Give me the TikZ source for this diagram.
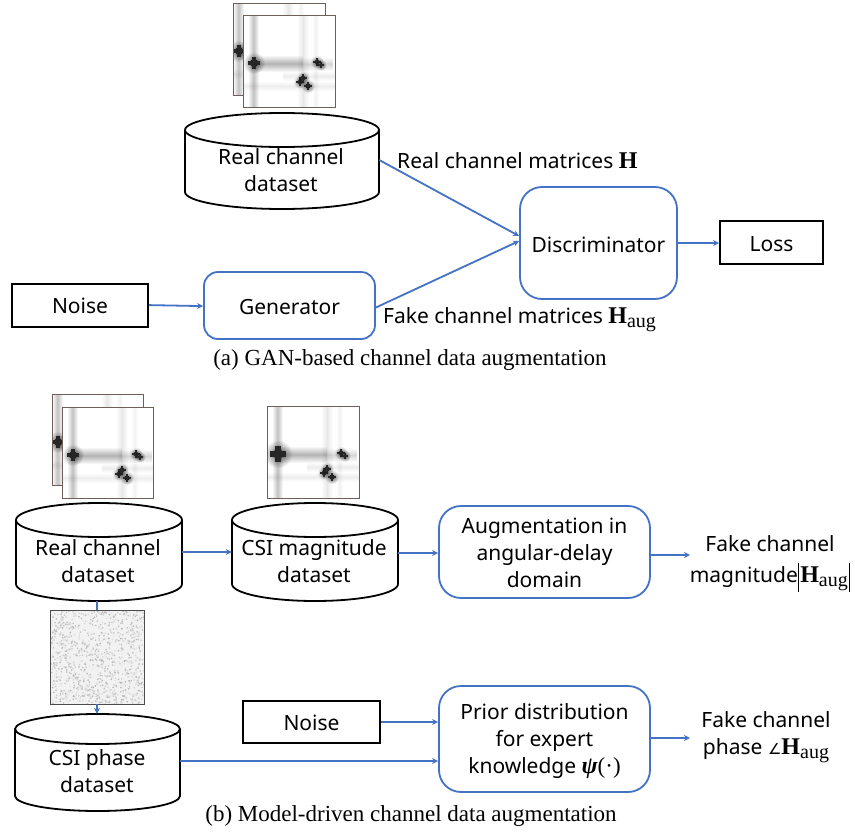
\documentclass[tikz,border=0pt]{standalone}
\usepackage{fontspec}
\setmainfont{Noto Sans}
\newfontfamily\capfont{Liberation Serif}
\newfontfamily\symfont{DejaVu Sans}
\usetikzlibrary{arrows.meta}
\definecolor{bluex}{HTML}{4472C4}
\definecolor{imgedge}{HTML}{6E5F5A}
\tikzset{
  x=1pt,y=-1pt,
  conn/.style={draw=bluex,line width=1.8pt,-{Stealth[length=6pt,width=6pt]}},
  connplain/.style={draw=bluex,line width=1.8pt},
  blackbox/.style={draw=black,line width=1.8pt,fill=white,inner sep=0pt,font=\fontsize{21}{27}\selectfont,align=center},
  bluebox/.style={draw=bluex,line width=1.8pt,rounded corners=22pt,fill=white,inner sep=0pt,font=\fontsize{21}{27}\selectfont,align=center},
  lbl/.style={inner sep=0pt,font=\fontsize{21}{27}\selectfont,align=center},
  caplbl/.style={inner sep=0pt,font=\capfont\fontsize{23}{26}\selectfont},
  anchorbox/.style={inner sep=0pt,draw=none},
}
\newcommand{\HH}{{\capfont\bfseries\fontsize{24}{24}\selectfont H}}
\newcommand{\augsub}{\raisebox{-4pt}{\capfont\fontsize{20}{20}\selectfont aug}}
\newcommand{\tallbar}{\rule[-9pt]{1.4pt}{29pt}}
\newcommand{\dn}[2]{\raisebox{0pt}[\dimexpr\height+#1pt\relax]{#2}}
\newcommand{\cyl}[6]{%
  \pgfmathsetmacro{\cx}{(#2+#3)/2}%
  \pgfmathsetmacro{\cyy}{(#4+#6)/2}%
  \pgfmathsetmacro{\rx}{(#3-#2)/2}%
  \pgfmathsetmacro{\ry}{#5-#4}%
  \pgfmathsetmacro{\hgt}{#6-#4}%
  \pgfmathsetmacro{\wid}{#3-#2}%
  \pgfmathsetmacro{\yb}{#6-\ry}%
  \draw[black,line width=1.8pt,fill=white] (#2,#5) -- (#2,\yb)
     arc[start angle=180,end angle=360,x radius=\rx pt,y radius=\ry pt] -- (#3,#5);
  \draw[black,line width=1.8pt,fill=white] (\cx,#5) ellipse[x radius=\rx pt,y radius=\ry pt];
  \node[anchorbox,minimum width=\wid pt,minimum height=\hgt pt] (#1) at (\cx,\cyy) {};
}
\newcommand{\blob}[3]{% x y r: a fuzzy cross
  \shade[blend mode=multiply,inner color=black!60,outer color=white] (#1,#2) circle[radius=#3*2.2];
  \fill[black] (#1,#2) circle[radius=#3*0.75];
  \fill[black!85] (#1-#3*1.25,#2-#3*0.4) rectangle (#1+#3*1.25,#2+#3*0.4);
  \fill[black!85] (#1-#3*0.4,#2-#3*1.25) rectangle (#1+#3*0.4,#2+#3*1.25);
}
% heatmap image: name, left, top, size, xoffset, bigblob
\newcommand{\heat}[6]{%
  \node[anchorbox,fill=white,minimum width=#4 pt,minimum height=#4 pt] (#1) at ({#2+#4/2},{#3+#4/2}) {};
  \begin{scope}
    \clip (#2,#3) rectangle ++(#4,#4);
    \begin{scope}[shift={(#2+#5,#3)}]
      \shade[blend mode=multiply,left color=white,right color=white,middle color=black!24] (5,0) rectangle (16,93);
      \shade[blend mode=multiply,left color=white,right color=white,middle color=black!9] (54,0) rectangle (66,93);
      \shade[blend mode=multiply,left color=white,right color=white,middle color=black!5] (69,0) rectangle (76,93);
      \shade[blend mode=multiply,top color=white,bottom color=white,middle color=black!30] (12,40) rectangle (60,57);
      \shade[blend mode=multiply,top color=white,bottom color=white,middle color=black!16] (60,42) rectangle (90,56);
      \shade[blend mode=multiply,top color=white,bottom color=white,middle color=black!7] (0,66) rectangle (93,76);
      \shade[blend mode=multiply,top color=white,bottom color=white,middle color=black!7] (40,56) rectangle (93,66);
      \blob{11}{48}{#6}
      \blob{74}{47}{3}
      \blob{78}{50}{2.6}
      \blob{57}{67}{3}
      \blob{60}{63}{3}
      \blob{65}{71}{3.2}
    \end{scope}
  \end{scope}
  \draw[imgedge,line width=1pt] (#2,#3) rectangle ++(#4,#4);
}
\begin{document}
\begin{tikzpicture}
\useasboundingbox (0,0) rectangle (855,833);
\fill[white] (0,0) rectangle (855,833);

% ===== (a) =====
\heat{imgAback}{233}{3}{92}{-5}{5}
\heat{imgAfront}{243}{15}{92}{0}{5}
\cyl{realA}{185}{379}{113}{130}{209}
\node[lbl] (realAt) at (281,170.5) {Real channel\\dataset};

\node[blackbox,minimum width=136pt,minimum height=43pt] (noiseA) at (80,305.5) {\dn{1}{Noise}};
\node[bluebox,rounded corners=14pt,minimum width=171pt,minimum height=67pt] (gen) at (289.5,305.5) {\dn{3}{Generator}};
\node[bluebox,minimum width=157pt,minimum height=112pt] (disc) at (598.5,243) {\dn{3}{Discriminator}};
\node[blackbox,minimum width=103pt,minimum height=43pt] (loss) at (771.5,242.5) {\dn{3}{Loss}};

\node[lbl,anchor=west] (lblreal) at (397,161) {Real channel matrices \HH};
\node[lbl,anchor=west] (lblfake) at (383,320) {Fake channel matrices \HH\augsub};
\node[caplbl] (capa) at (410,360) {(a) GAN-based channel data augmentation};

\draw[conn] ([yshift=.4pt]noiseA.east) -- ([yshift=-.6pt]gen.west);
\draw[conn] ([yshift=-2pt]gen.east) -- ([yshift=2pt]disc.west);
\draw[conn] ([yshift=1pt]realA.east) -- ([yshift=7pt]disc.west);
\draw[conn] (disc.east) -- (disc.east -| loss.west);

% ===== (b) =====
\heat{imgBback}{52}{394}{91}{-5}{5}
\heat{imgBfront}{62}{407}{91}{0}{5}
\heat{imgBmag}{267}{406}{92}{0}{6.5}
\cyl{realB}{16}{182}{503}{520}{601}
\node[lbl] (realBt) at (98,561.5) {Real channel\\dataset};
\cyl{magB}{232}{398}{503}{520}{601}
\node[lbl] (magBt) at (314,561.5) {CSI magnitude\\dataset};

\node[anchorbox,minimum width=94pt,minimum height=94pt] (noiseimg) at (97,657) {};
\fill[black!5] (50,610) rectangle (144,704);
\pgfmathsetseed{17}
\begin{scope}
  \clip (50,610) rectangle (144,704);
  \foreach \i in {1,...,1100}{
    \pgfmathsetmacro{\px}{50+94*rnd}
    \pgfmathsetmacro{\py}{610+94*rnd}
    \pgfmathsetmacro{\sh}{8+22*rnd}
    \fill[black!\sh] (\px,\py) circle[radius=0.9];
  }
\end{scope}
\draw[black!70,line width=0.8pt] (50,610) rectangle (144,704);

\cyl{phaseB}{15}{180}{714}{729}{811}
\node[lbl] (phaseBt) at (97,771.5) {CSI phase\\dataset};

\node[bluebox,minimum width=211pt,minimum height=92pt] (augbox) at (544.5,552) {\dn{2}{Augmentation in}\\angular-delay\\domain};
\node[blackbox,minimum width=137pt,minimum height=42pt] (noiseB) at (311.5,722) {\dn{1}{Noise}};
\node[bluebox,minimum width=211pt,minimum height=106pt] (prior) at (544.5,739) {\dn{4}{Prior distribution}\\for expert\\knowledge {\capfont\bfseries\itshape\fontsize{24}{24}\selectfont ψ}{\capfont\fontsize{23}{23}\selectfont (·)}};

\node[lbl,font=\fontsize{21}{31}\selectfont] (fakemag) at (770,564) {Fake channel\\magnitude\tallbar\kern1pt\HH\augsub\kern1pt\tallbar};
\node[lbl] (fakeph) at (766,737) {Fake channel\\phase {\symfont\fontsize{15}{15}\selectfont ∠}\HH\augsub};
\node[caplbl] (capb) at (411,816) {(b) Model-driven channel data augmentation};

\draw[conn] (realB.east |- 0,552) -- (magB.west |- 0,552);
\draw[conn] ([yshift=-1pt]magB.east) -- ([yshift=-1pt]augbox.west);
\draw[conn] ([xshift=-2pt]augbox.east |- 0,555) -- (690,555) coordinate (fakemagin);
\draw[connplain] (realB.south -| noiseimg.north) -- (noiseimg.north);
\draw[conn] (noiseimg.south) -- (phaseB.north -| noiseimg.south);
\draw[conn] (noiseB.east) -- (noiseB.east -| prior.west);
\draw[conn] (phaseB.east |- 0,761) -- (prior.west |- 0,761);
\draw[conn] ([xshift=-2pt]prior.east |- 0,738) -- (690,738) coordinate (fakephin);
\end{tikzpicture}
\end{document}
